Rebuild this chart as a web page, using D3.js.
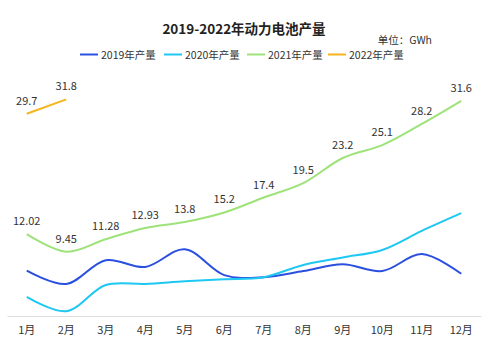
<!DOCTYPE html>
<html>
<head>
<meta charset="utf-8">
<script src="https://cdn.jsdelivr.net/npm/d3@7/dist/d3.min.js"></script>
<style>
html,body{margin:0;padding:0;background:#fff;}
svg{display:block;font-family:"Noto Sans CJK SC","Noto Sans",sans-serif;}
</style>
</head>
<body>
<svg id="chart" width="500" height="355"></svg>
<script>
const months = ["1月","2月","3月","4月","5月","6月","7月","8月","9月","10月","11月","12月"];
const seriesNames = ["2019年产量","2020年产量","2021年产量","2022年产量"];
const colors = ["#2b50e0","#1ec8f2","#9ee27a","#f6b51d"];
const v2019 = [6.65,4.7,8.2,7.2,9.8,6.0,5.7,6.6,7.6,6.6,9.1,6.2];
const v2020 = [2.8,0.7,4.55,4.7,5.1,5.4,5.7,7.5,8.6,9.7,12.5,15.1];
const v2021 = [12.02,9.45,11.28,12.93,13.8,15.2,17.4,19.5,23.2,25.1,28.2,31.6];
const v2022 = [29.7,31.8];
const labels2021 = ["12.02","9.45","11.28","12.93","13.8","15.2","17.4","19.5","23.2","25.1","28.2","31.6"];
const labels2022 = ["29.7","31.8"];
const yMax = 46.4;

const svg = d3.select("#chart");
const x = d3.scaleBand().domain(months).range([7,481]);
const y = d3.scaleLinear().domain([0,yMax]).range([316,0]);
const cx = m => x(m) + x.bandwidth()/2;

// title
svg.append("text").attr("x",244).attr("y",34).attr("text-anchor","middle")
  .attr("font-size",13.5).attr("font-weight","bold").attr("fill","#222")
  .text("2019-2022年动力电池产量");
svg.append("text").attr("x",432).attr("y",44).attr("text-anchor","end")
  .attr("font-size",10.5).attr("fill","#333").text("单位：GWh");

// legend
const legX = [80,164,247,328];
seriesNames.forEach((n,i)=>{
  svg.append("line").attr("x1",legX[i]).attr("x2",legX[i]+18).attr("y1",54.5).attr("y2",54.5)
    .attr("stroke",colors[i]).attr("stroke-width",2);
  svg.append("text").attr("x",legX[i]+21).attr("y",58.5).attr("font-size",10.5).attr("fill","#333").text(n);
});

// axis
const ax = svg.append("g").attr("transform","translate(0,316)")
  .call(d3.axisBottom(x).tickSize(0).tickPadding(10));
ax.select(".domain").attr("stroke","#ddd");
ax.selectAll("text").attr("font-size",11).attr("fill","#333")
  .attr("font-family","\"Noto Sans CJK SC\",\"Noto Sans\",sans-serif");

const line = d3.line().x(d=>cx(d.m)).y(d=>y(d.v)).curve(d3.curveCatmullRom.alpha(0.5));
const all = [v2019,v2020,v2021,v2022];
all.forEach((arr,i)=>{
  const data = arr.map((v,j)=>({m:months[j],v}));
  svg.append("path").datum(data).attr("d",line).attr("fill","none")
    .attr("stroke",colors[i]).attr("stroke-width",2);
});

function addLabels(arr, labs){
  arr.forEach((v,j)=>{
    svg.append("text").attr("x",cx(months[j])).attr("y",y(v)-9).attr("text-anchor","middle")
      .attr("font-size",11).attr("fill","#333").text(labs[j]);
  });
}
addLabels(v2021, labels2021);
addLabels(v2022, labels2022);
</script>
</body>
</html>
